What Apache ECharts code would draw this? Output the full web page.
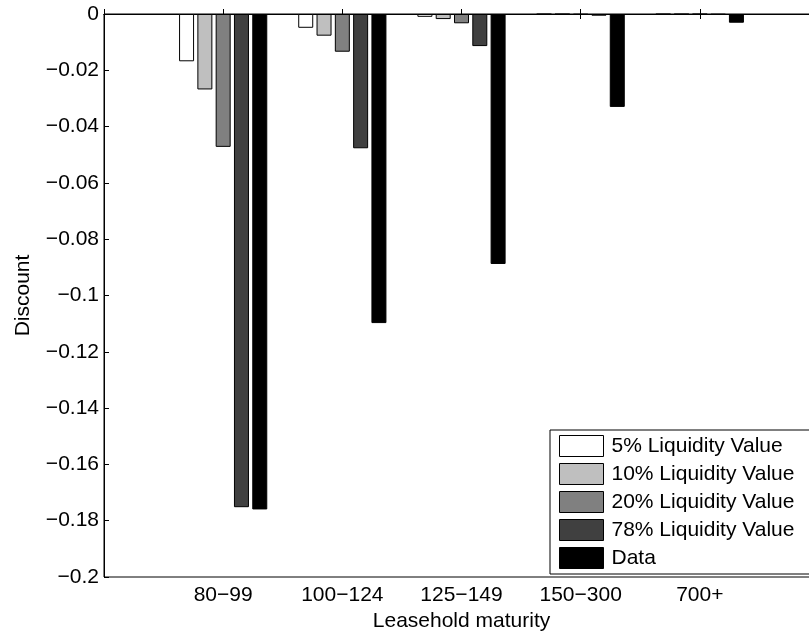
<!DOCTYPE html>
<html>
<head>
<meta charset="utf-8">
<script src="https://cdn.jsdelivr.net/npm/echarts@6/dist/echarts.min.js"></script>
<style>
  html, body { margin: 0; padding: 0; background: #fff; }
  #chart { width: 809px; height: 635px; }
</style>
</head>
<body>
<div id="chart"></div>
<script>
// categories (leasehold maturity buckets)
var categories = ['80\u221299', '100\u2212124', '125\u2212149', '150\u2212300', '700+']

// series values
var liq5 = [-0.0168, -0.0049, -0.0010, -0.0001, -0.0001]
var liq10 = [-0.0268, -0.0077, -0.0018, -0.0001, -0.0001]
var liq20 = [-0.0472, -0.0134, -0.0033, -0.0002, -0.0001]
var liq78 = [-0.1752, -0.0477, -0.0114, -0.0006, -0.0002]
var dataVals = [-0.1760, -0.1098, -0.0888, -0.0330, -0.0031]

var seriesNames = ['5% Liquidity Value', '10% Liquidity Value', '20% Liquidity Value', '78% Liquidity Value', 'Data']
var seriesColors = ['#ffffff', '#bfbfbf', '#808080', '#404040', '#000000']
var seriesData = [liq5, liq10, liq20, liq78, dataVals]

// matlab puts xlim at [0, 6] -> pad with an empty slot on each side
var axisCats = [''].concat(categories).concat([''])
function pad(arr) {
  return ['-'].concat(arr).concat(['-'])
}

var font = 'Liberation Sans, Arial, Helvetica, sans-serif'
var fs = 21

var chart = echarts.init(document.getElementById('chart'))

var series = seriesData.map(function (arr, i) {
  return {
    name: seriesNames[i],
    type: 'bar',
    data: pad(arr),
    barWidth: 15,
    barGap: '22%',
    itemStyle: {
      color: seriesColors[i],
      borderColor: '#000',
      borderWidth: 1
    }
  }
})

var option = {
  animation: false,
  backgroundColor: '#fff',
  textStyle: { fontFamily: font, color: '#000' },
  grid: {
    left: 104,
    top: 14,
    right: -10,
    bottom: 58,
    outerBoundsMode: 'none',
    show: true,
    borderColor: '#000',
    borderWidth: 1
  },
  legend: {
    orient: 'vertical',
    left: 550,
    top: 430,
    padding: [5, 40, 5, 9],
    itemWidth: 44,
    itemHeight: 21,
    itemGap: 6,
    backgroundColor: '#fff',
    borderColor: '#000',
    borderWidth: 1,
    borderRadius: 0,
    icon: 'rect',
    itemStyle: { borderColor: '#000', borderWidth: 1 },
    textStyle: { fontFamily: font, fontSize: fs, color: '#000', padding: [0, 0, 0, 3] },
    data: seriesNames
  },
  xAxis: [{
    type: 'category',
    data: axisCats,
    boundaryGap: false,
    position: 'bottom',
    name: 'Leasehold maturity',
    nameLocation: 'middle',
    nameGap: 32,
    nameTextStyle: { fontFamily: font, fontSize: fs, color: '#000' },
    axisLine: { lineStyle: { color: '#000', width: 1 } },
    axisTick: { inside: true, length: 5, lineStyle: { color: '#000' } },
    axisLabel: { fontFamily: font, fontSize: fs, color: '#000', margin: 8, interval: 0 },
    splitLine: { show: false }
  }, {
    type: 'category',
    data: axisCats,
    boundaryGap: false,
    position: 'top',
    axisLine: { lineStyle: { color: '#000', width: 1 } },
    axisTick: { inside: true, length: 5, lineStyle: { color: '#000' } },
    axisLabel: { show: false },
    splitLine: { show: false }
  }],
  yAxis: {
    type: 'value',
    min: -0.2,
    max: 0,
    interval: 0.02,
    name: 'Discount',
    nameLocation: 'middle',
    nameGap: 70,
    nameTextStyle: { fontFamily: font, fontSize: fs, color: '#000' },
    axisLine: { show: true, lineStyle: { color: '#000', width: 1 } },
    axisTick: { show: true, inside: true, length: 5, lineStyle: { color: '#000' } },
    axisLabel: {
      fontFamily: font,
      fontSize: fs,
      color: '#000',
      margin: 5,
      formatter: function (v) {
        if (Math.abs(v) < 1e-9) return '0'
        return '\u2212' + parseFloat(Math.abs(v).toFixed(2))
      }
    },
    splitLine: { show: false }
  },
  series: series
}

chart.setOption(option)
</script>
</body>
</html>
